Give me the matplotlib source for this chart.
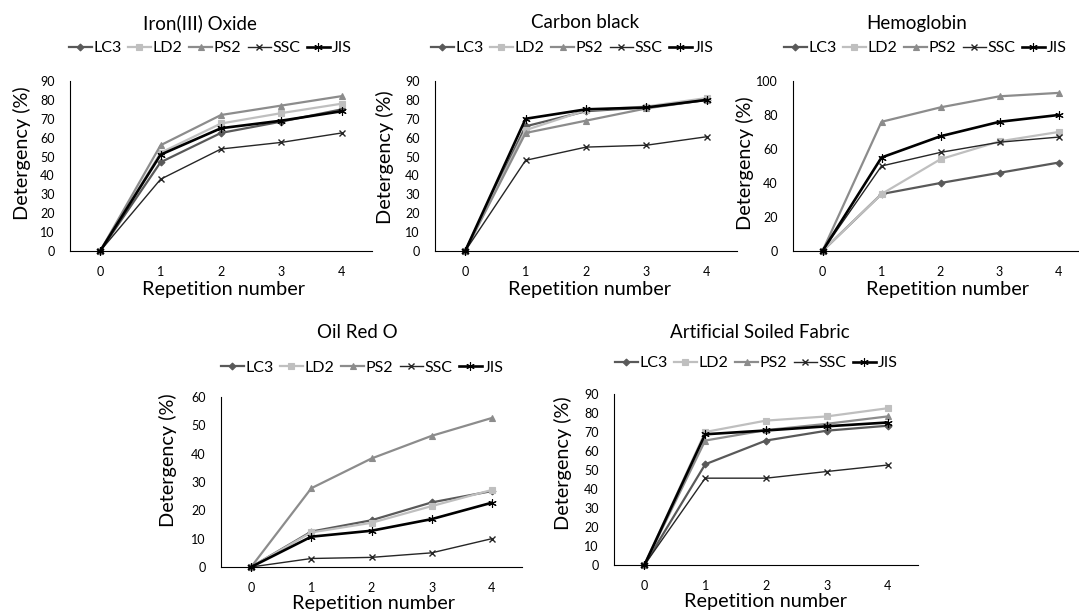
import numpy as np
import matplotlib.pyplot as plt

plt.rcParams['font.family'] = ['Lato', 'DejaVu Sans']

reps = [0, 1, 2, 3, 4]
series = ["LC3", "LD2", "PS2", "SSC", "JIS"]

# detergency (%) per soil, one list per series
iron_lc3 = [0, 47, 62.5, 68.5, 75]
iron_ld2 = [0, 52, 67.5, 73, 78]
iron_ps2 = [0, 56, 72, 77, 82]
iron_ssc = [0, 38, 54, 57.5, 62.5]
iron_jis = [0, 51, 65, 69, 74]

carbon_lc3 = [0, 66, 74, 76, 80]
carbon_ld2 = [0, 64, 74.5, 76.5, 81]
carbon_ps2 = [0, 62.5, 69, 75.5, 80]
carbon_ssc = [0, 48, 55, 56, 60.5]
carbon_jis = [0, 70, 75, 76, 80]

hemo_lc3 = [0, 33.5, 40, 46, 52]
hemo_ld2 = [0, 33.5, 54, 64.5, 70]
hemo_ps2 = [0, 76, 84.5, 91, 93]
hemo_ssc = [0, 50, 58, 64, 67]
hemo_jis = [0, 55, 67.5, 76, 80]

oil_lc3 = [0, 12.5, 16.5, 22.8, 26.8]
oil_ld2 = [0, 12.2, 15.6, 21.5, 27.2]
oil_ps2 = [0, 27.8, 38.3, 46.3, 52.6]
oil_ssc = [0, 3, 3.4, 5, 10]
oil_jis = [0, 10.7, 12.8, 16.9, 22.7]

fabric_lc3 = [0, 53, 65.5, 70.7, 73.3]
fabric_ld2 = [0, 70, 76, 78.2, 82.5]
fabric_ps2 = [0, 65.5, 71, 74.3, 78.2]
fabric_ssc = [0, 45.7, 45.7, 49.2, 52.6]
fabric_jis = [0, 68.8, 70.8, 73, 75]

colors = ["#595959", "#bfbfbf", "#8c8c8c", "#262626", "#000000"]
markers = ["D", "s", "^", "x", (6, 2, 0)]
msizes = [3.5, 4.5, 5, 5, 6]
widths = [1.6, 1.6, 1.6, 1.0, 1.9]

# (title, data, ymax, step, axes box px [left, bottom, right, top],
#  title xy, legend xy, xlabel xy, ylabel xy) -- all in pixels from top-left
panels = [
    ("Iron(III) Oxide", [iron_lc3, iron_ld2, iron_ps2, iron_ssc, iron_jis], 90, 10,
     [70, 251, 372, 81], (200, 23), (210, 48), (224, 289), (22, 153)),
    ("Carbon black", [carbon_lc3, carbon_ld2, carbon_ps2, carbon_ssc, carbon_jis], 90, 10,
     [435, 251, 737, 81], (585, 23), (572, 48), (590, 289), (385, 157)),
    ("Hemoglobin", [hemo_lc3, hemo_ld2, hemo_ps2, hemo_ssc, hemo_jis], 100, 20,
     [793, 251, 1088, 81], (917, 23), (925, 48), (948, 289), (745, 163)),
    ("Oil Red O", [oil_lc3, oil_ld2, oil_ps2, oil_ssc, oil_jis], 60, 10,
     [221, 567, 522, 397], (357, 333), (362, 368), (374, 603), (168, 460)),
    ("Artificial Soiled Fabric", [fabric_lc3, fabric_ld2, fabric_ps2, fabric_ssc, fabric_jis], 90, 10,
     [614, 565, 918, 394], (760, 333), (756, 363), (766, 602), (563, 463)),
]

W, H = 1079, 611
fig = plt.figure(figsize=(W / 100, H / 100), dpi=100)

for title, data, ymax, step, (x0, y0, x1, y1), tpos, lpos, xlpos, ylpos in panels:
    ax = fig.add_axes([x0 / W, (H - y0) / H, (x1 - x0) / W, (y0 - y1) / H])
    for name, vals, c, m, ms, lw in zip(series, data, colors, markers, msizes, widths):
        ax.plot(reps, vals, color=c, marker=m, markersize=ms, linewidth=lw,
                markeredgewidth=1.0 if m == "x" else 0.8, label=name, clip_on=False)
    ax.set_xlim(-0.5, 4.5)
    ax.set_ylim(0, ymax)
    ax.set_xticks(reps)
    ax.set_yticks(np.arange(0, ymax + 1, step))
    ax.tick_params(length=0, labelsize=9, colors="#000000")
    ax.tick_params(axis="x", pad=11)
    ax.tick_params(axis="y", pad=11)
    for s in ["top", "right"]:
        ax.spines[s].set_visible(False)
    for s in ["left", "bottom"]:
        ax.spines[s].set_color("#000000")
        ax.spines[s].set_linewidth(0.8)

    fig.text(tpos[0] / W, 1 - tpos[1] / H, title, fontsize=13.5, ha="center", va="center")
    fig.text(xlpos[0] / W, 1 - xlpos[1] / H, "Repetition number", fontsize=14.3,
             ha="center", va="center")
    fig.text(ylpos[0] / W, 1 - ylpos[1] / H, "Detergency (%)", fontsize=14.3,
             ha="center", va="center", rotation=90)
    fig.legend(*ax.get_legend_handles_labels(), loc="center",
               bbox_to_anchor=(lpos[0] / W, 1 - lpos[1] / H), ncol=5, frameon=False,
               fontsize=11.5, handlelength=1.45, handletextpad=0.1, columnspacing=0.4,
               borderaxespad=0, borderpad=0)

fig.savefig("out.png", dpi=100)
